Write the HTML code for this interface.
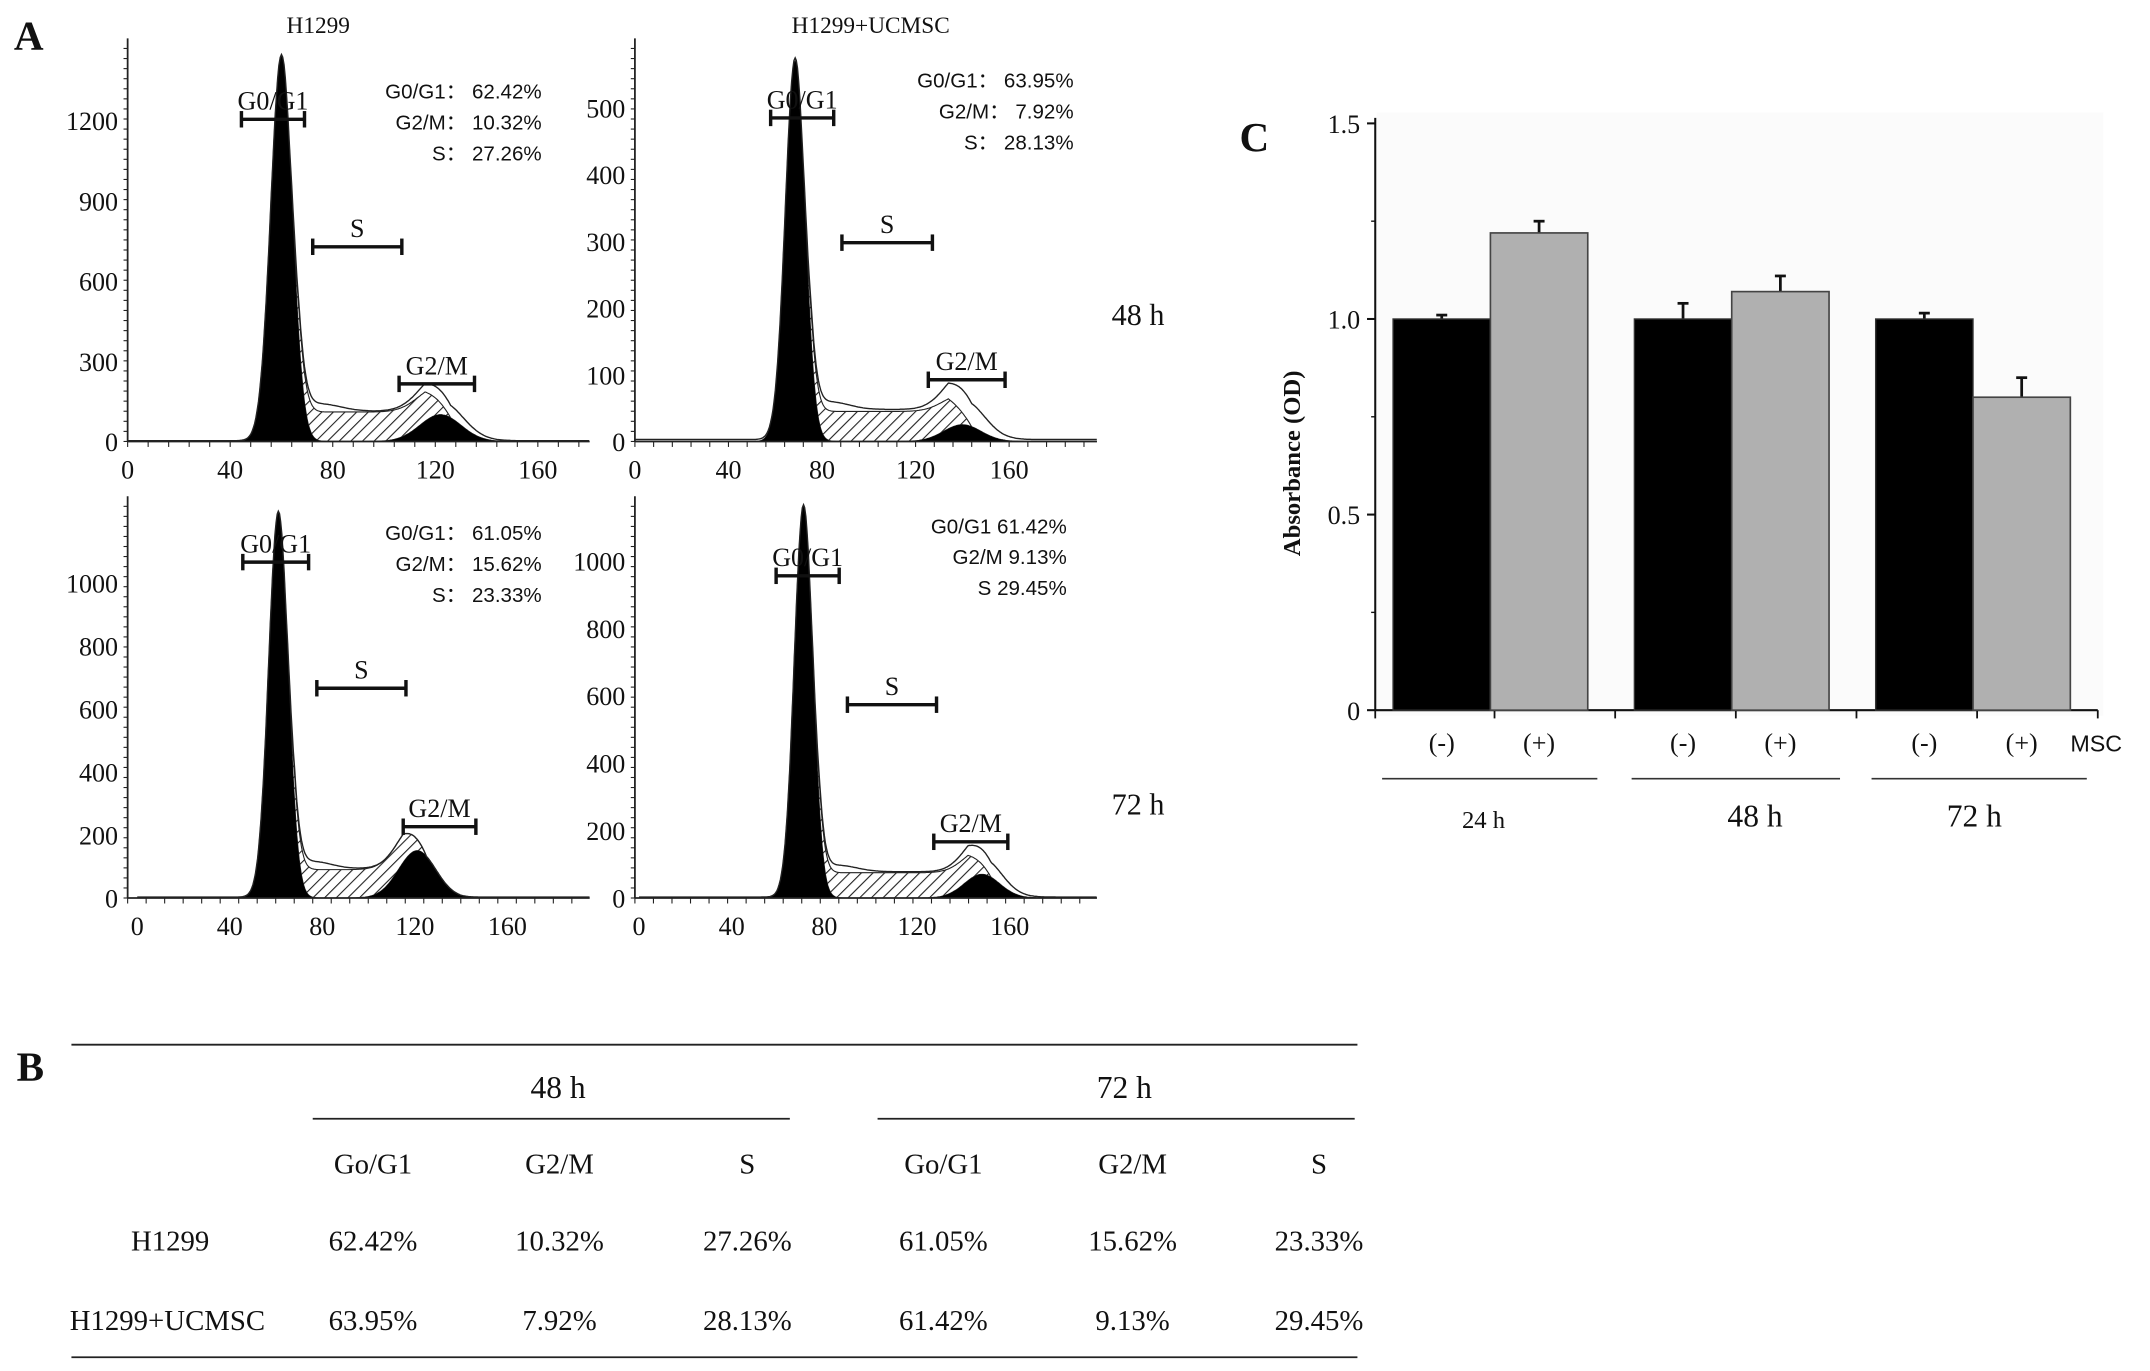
<!DOCTYPE html>
<html><head><meta charset="utf-8"><style>
html,body{margin:0;padding:0;background:#fff}
svg{display:block}
text{font-family:"Liberation Serif","Noto Serif CJK SC",serif;fill:#111}
.s{font-family:"Liberation Sans","Noto Sans CJK SC",sans-serif}
</style></head><body>
<svg id="fig" width="2150" height="1371" viewBox="0 0 1568 1000" xmlns="http://www.w3.org/2000/svg">
<defs><pattern id="hatch" patternUnits="userSpaceOnUse" width="6" height="6" patternTransform="rotate(45)"><rect width="6" height="6" fill="#fff"/><line x1="0" y1="0" x2="0" y2="6" stroke="#222" stroke-width="1.6"/></pattern></defs>
<text x="10" y="36" font-size="30" font-weight="bold">A</text>
<text x="232" y="24" font-size="17" text-anchor="middle">H1299</text>
<text x="635" y="24" font-size="17" text-anchor="middle">H1299+UCMSC</text>
<text x="830" y="237" font-size="22" text-anchor="middle">48 h</text>
<text x="830" y="594" font-size="22" text-anchor="middle">72 h</text>
<g id="hists"></g>
<g>
<text x="12" y="788" font-size="30" font-weight="bold">B</text>
<line x1="52" y1="762" x2="990" y2="762" stroke="#222" stroke-width="1.3"/>
<line x1="228" y1="816" x2="576" y2="816" stroke="#222" stroke-width="1.3"/>
<line x1="640" y1="816" x2="988" y2="816" stroke="#222" stroke-width="1.3"/>
<line x1="52" y1="990" x2="990" y2="990" stroke="#222" stroke-width="1.3"/>
<text x="407" y="801" font-size="23" text-anchor="middle">48 h</text>
<text x="820" y="801" font-size="23" text-anchor="middle">72 h</text>
<g font-size="21" text-anchor="middle">
<text x="272" y="856">Go/G1</text><text x="408" y="856">G2/M</text><text x="545" y="856">S</text>
<text x="688" y="856">Go/G1</text><text x="826" y="856">G2/M</text><text x="962" y="856">S</text>
<text x="124" y="912">H1299</text>
<text x="272" y="912">62.42%</text><text x="408" y="912">10.32%</text><text x="545" y="912">27.26%</text>
<text x="688" y="912">61.05%</text><text x="826" y="912">15.62%</text><text x="962" y="912">23.33%</text>
<text x="122" y="970">H1299+UCMSC</text>
<text x="272" y="970">63.95%</text><text x="408" y="970">7.92%</text><text x="545" y="970">28.13%</text>
<text x="688" y="970">61.42%</text><text x="826" y="970">9.13%</text><text x="962" y="970">29.45%</text>
</g></g>
<text x="904" y="110" font-size="30" font-weight="bold">C</text>
<rect x="1004" y="82" width="530" height="440" fill="#fbfbfb"/>
<g id="barc"></g>
<text transform="translate(948,338) rotate(-90)" font-size="18" font-weight="bold" text-anchor="middle">Absorbance (OD)</text>
</svg>
<script>
// ---- Panel C data ----
const groups = ['24 h','48 h','72 h'];
const ctrl = [1.0, 1.0, 1.0];
const ctrlErr = [0.01, 0.04, 0.015];
const msc = [1.22, 1.07, 0.80];
const mscErr = [0.03, 0.04, 0.05];
const yTicks = [0, 0.5, 1.0, 1.5];
const yTickLabels = ['0','0.5','1.0','1.5'];

// ---- Panel A data (channel, counts) ----
const histTitles = ['h1299-48h','ucmsc-48h','h1299-72h','ucmsc-72h'];
const g1Center = [60, 68.5, 61, 71];
const g1Height = [1440, 570, 1220, 1160];
const g1Sigma = [4.2, 4.2, 4.2, 4.0];
const g2Center = [122, 140, 121, 148];
const g2Height = [100, 25, 150, 70];
const g2Outline = [200, 80, 170, 150];
const sLevel = [110, 45, 90, 75];
const yTickVals = [[0,300,600,900,1200],[0,100,200,300,400,500],[0,200,400,600,800,1000],[0,200,400,600,800,1000]];
const xTickVals = [0,40,80,120,160];
const pctG1 = ['62.42%','63.95%','61.05%','61.42%'];
const pctG2 = ['10.32%','7.92%','15.62%','9.13%'];
const pctS = ['27.26%','28.13%','23.33%','29.45%'];

const NS='http://www.w3.org/2000/svg';
function mk(tag, attrs, parent, txt){const e=document.createElementNS(NS,tag);for(const k in attrs)e.setAttribute(k,attrs[k]);if(txt!==undefined)e.textContent=txt;parent.appendChild(e);return e;}

const L=[
 {ax:93, ay:322, top:28, right:430, xs:1.87, x0:93, ys:58.5/300, txtX:395, txtY:72},
 {ax:463, ay:322, top:28, right:800, xs:1.706, x0:463, ys:0.4867, txtX:783, txtY:64},
 {ax:93, ay:655, top:362, right:430, xs:1.6875, x0:100, ys:0.23, txtX:395, txtY:394},
 {ax:463, ay:655, top:362, right:800, xs:1.69, x0:466, ys:0.246, txtX:778, txtY:389}
];
const br=[
 [[176,222,87],[228,293,180],[291,346,280]],
 [[562,608,86],[614,680,177],[677,733,277]],
 [[177,225,410],[231,296,502],[294,347,603]],
 [[566,612,420],[618,683,514],[681,735,614]]
];
const hroot=document.getElementById('hists');
function gauss(x,c,s){return Math.exp(-0.5*((x-c)/s)**2);}
for(let i=0;i<4;i++){
 const P=L[i];
 const g=mk('g',{},hroot);
 
 
 const X=v=>P.x0+v*P.xs, Y=c=>P.ay-c*P.ys;
 const maxCh=(P.right-P.x0)/P.xs;
 const pts=[];
 for(let ch=0;ch<=maxCh;ch+=0.5){
  const b=g1Height[i]*gauss(ch,g1Center[i],g1Sigma[i])+g2Height[i]*gauss(ch,g2Center[i],g1Sigma[i]*1.9);
  const lo=g1Center[i]+3, hi=g2Center[i]+4;
  let s=0; if(ch>lo&&ch<hi){s=sLevel[i]*Math.min(1,(ch-lo)/4)*Math.min(1,(hi-ch)/10);}
  const o=b+s+(g2Outline[i]-g2Height[i]-sLevel[i]*0.5)*gauss(ch,g2Center[i]+2,g1Sigma[i]*2)+ sLevel[i]*0.25*gauss(ch,g1Center[i]+15,8) + 3;
  pts.push([X(ch),Y(b),Y(b+s),Y(Math.max(o,b+s))]);
 }
 const black='M'+pts[0][0]+','+P.ay+pts.map(p=>'L'+p[0].toFixed(1)+','+p[1].toFixed(1)).join('')+'L'+pts[pts.length-1][0]+','+P.ay+'Z';
 const hatch='M'+pts.map(p=>p[0].toFixed(1)+','+p[2].toFixed(1)).join('L')+pts.slice().reverse().map(p=>'L'+p[0].toFixed(1)+','+p[1].toFixed(1)).join('')+'Z';
 const outline='M'+pts.map(p=>p[0].toFixed(1)+','+p[3].toFixed(1)).join('L');
 const h=mk('path',{d:hatch,fill:'url(#hatch)',stroke:'#222','stroke-width':0.8},g);
  
 const bl=mk('path',{d:black,fill:'#000'},g);
  
 const ol=mk('path',{d:outline,fill:'none',stroke:'#222','stroke-width':1},g);
  
 mk('line',{x1:P.ax,y1:P.top,x2:P.ax,y2:P.ay,stroke:'#222','stroke-width':1.3},g);
 mk('line',{x1:P.ax,y1:P.ay,x2:P.right,y2:P.ay,stroke:'#222','stroke-width':1.3},g);
 for(let y=P.ay;y>=P.top;y-=(P.ay-P.top)/40) mk('line',{x1:P.ax-3,y1:y,x2:P.ax,y2:y,stroke:'#222','stroke-width':0.8},g);
 for(let x=P.ax;x<=P.right;x+=P.xs*8) mk('line',{x1:x,y1:P.ay,x2:x,y2:P.ay+4,stroke:'#222','stroke-width':0.8},g);
 yTickVals[i].forEach(v=>{const t=mk('text',{x:P.ax-7,y:Y(v)+7,'font-size':19,'text-anchor':'end'},g,String(v));});
 xTickVals.forEach(v=>{const t=mk('text',{x:X(v),y:P.ay+27,'font-size':19,'text-anchor':'middle'},g,String(v));});
 const sep = i===3?' ':'：';
 [['G0/G1'+sep,pctG1[i]],['G2/M'+sep,pctG2[i]],['S'+(i===3?'':'：'),pctS[i]]].forEach((r,k)=>{
  const t=mk('text',{x:P.txtX,y:P.txtY+k*22.5,'font-size':15,'text-anchor':'end',class:'s'},g,r[0]+' '+r[1]);
   
 });
 const names=['G0/G1','S','G2/M'];
 br[i].forEach((b,k)=>{
  mk('line',{x1:b[0],y1:b[2],x2:b[1],y2:b[2],stroke:'#111','stroke-width':2.5},g);
  mk('line',{x1:b[0],y1:b[2]-6,x2:b[0],y2:b[2]+6,stroke:'#111','stroke-width':2.5},g);
  mk('line',{x1:b[1],y1:b[2]-6,x2:b[1],y2:b[2]+6,stroke:'#111','stroke-width':2.5},g);
  const t=mk('text',{x:(b[0]+b[1])/2,y:b[2]-7,'font-size':19,'text-anchor':'middle'},g,names[k]);
   
 });
}

const C=document.getElementById('barc');
const cy=v=>518-v*(518-90)/1.5;
const groupX=[1016,1192,1368], bw=71;
mk('line',{x1:1003,y1:86,x2:1003,y2:518,stroke:'#111','stroke-width':1.5},C);
mk('line',{x1:1003,y1:518,x2:1530,y2:518,stroke:'#111','stroke-width':1.5},C);
yTicks.forEach((v,k)=>{
 mk('line',{x1:997,y1:cy(v),x2:1003,y2:cy(v),stroke:'#111','stroke-width':1.5},C);
 const t=mk('text',{x:992,y:cy(v)+7,'font-size':19,'text-anchor':'end'},C,yTickLabels[k]);
  
});
[0.25,0.75,1.25].forEach(v=>mk('line',{x1:1000,y1:cy(v),x2:1003,y2:cy(v),stroke:'#111','stroke-width':1},C));
[1090,1266,1442].forEach(x=>mk('line',{x1:x,y1:518,x2:x,y2:524,stroke:'#111','stroke-width':1.3},C));
[1003,1178,1354,1530].forEach(x=>mk('line',{x1:x,y1:518,x2:x,y2:524,stroke:'#111','stroke-width':1.3},C));
function errBar(x,v,e){mk('line',{x1:x,y1:cy(v),x2:x,y2:cy(v+e),stroke:'#111','stroke-width':2},C);mk('line',{x1:x-4,y1:cy(v+e),x2:x+4,y2:cy(v+e),stroke:'#111','stroke-width':2},C);}
groups.forEach((gname,i)=>{
 const x=groupX[i];
 errBar(x+bw/2,ctrl[i],ctrlErr[i]);
 errBar(x+bw*1.5,msc[i],mscErr[i]);
 const r1=mk('rect',{x:x,y:cy(ctrl[i]),width:bw,height:cy(0)-cy(ctrl[i]),fill:'#000',stroke:'#333','stroke-width':1},C);
 
 
 const r2=mk('rect',{x:x+bw,y:cy(msc[i]),width:bw,height:cy(0)-cy(msc[i]),fill:'#b0b0b0',stroke:'#444','stroke-width':1.2},C);
 
 
 const t1=mk('text',{x:x+bw/2,y:548,'font-size':19,'text-anchor':'middle'},C,'(-)');
  
 const t2=mk('text',{x:x+bw*1.5,y:548,'font-size':19,'text-anchor':'middle'},C,'(+)');
  
 mk('line',{x1:[1008,1190,1365][i],y1:568,x2:[1165,1342,1522][i],y2:568,stroke:'#333','stroke-width':1.2},C);
 const t3=mk('text',{x:[1082,1280,1440][i],y:i===0?604:603,'font-size':i===0?18:23,'text-anchor':'middle'},C,gname);
  
});
const ms=mk('text',{x:1510,y:548,'font-size':17,class:'s'},C,'MSC');
 
</script>
</body></html>
